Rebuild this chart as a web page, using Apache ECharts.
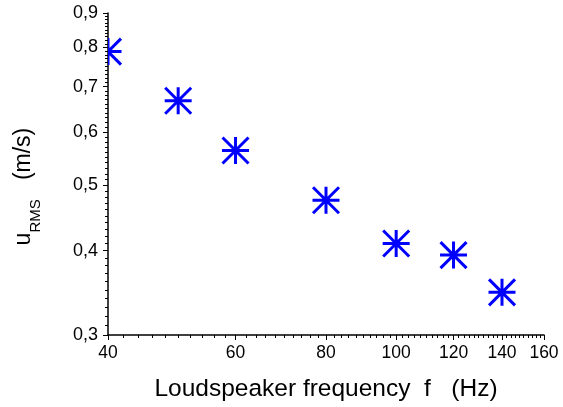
<!DOCTYPE html>
<html>
<head>
<meta charset="utf-8">
<script src="https://cdn.jsdelivr.net/npm/echarts@6/dist/echarts.min.js"></script>
<style>
html,body{margin:0;padding:0;background:#fff;}
#chart{width:563px;height:407px;}
</style>
</head>
<body>
<div id="chart"></div>
<script>
// Data
const frequencies = [40, 50, 60, 80, 100, 120, 140];
const uRmsValues = [0.789, 0.667, 0.563, 0.475, 0.410, 0.394, 0.347];

// Tick values
const xMajorTicks = [40, 60, 80, 100, 120, 140, 160];
const yMajorTicks = [0.3, 0.4, 0.5, 0.6, 0.7, 0.8, 0.9];
const xMinorTicks = [];
for (let v = 42; v < 160; v += 2) { if (v % 20 !== 0) xMinorTicks.push(v); }
const yMinorTicks = [];
for (let i = 31; i < 90; i++) { if (i % 10 !== 0) yMinorTicks.push(i / 100); }

const FONT = 'Arial, "Liberation Sans", sans-serif';
const points = frequencies.map((f, i) => [f, uRmsValues[i]]);

const chart = echarts.init(document.getElementById('chart'), null, {renderer: 'canvas'});

const axisLine = {show: true, lineStyle: {color: '#000', width: 1.5}};

chart.setOption({
  animation: false,
  backgroundColor: '#fff',
  grid: {left: 108, right: 19, top: 13, bottom: 71},
  xAxis: [
    {
      type: 'log', logBase: 10, min: 40, max: 160, position: 'bottom',
      axisLine: axisLine,
      splitLine: {show: false},
      axisTick: {show: true, inside: false, length: 5, customValues: xMajorTicks, lineStyle: {color: '#000', width: 1}},
      axisLabel: {show: true, margin: 9, customValues: xMajorTicks, color: '#000', fontSize: 17.5, fontFamily: FONT,
        formatter: v => String(Math.round(v))},
      name: 'Loudspeaker frequency  f   (Hz)',
      nameLocation: 'middle', nameGap: 42,
      nameTextStyle: {color: '#000', fontSize: 24.5, fontFamily: FONT}
    },
    {
      type: 'log', logBase: 10, min: 40, max: 160, position: 'bottom',
      axisLine: {show: false}, splitLine: {show: false},
      axisTick: {show: true, inside: false, length: 3, customValues: xMinorTicks, lineStyle: {color: '#000', width: 1}},
      axisLabel: {show: false}
    }
  ],
  yAxis: [
    {
      type: 'log', logBase: 10, min: 0.3, max: 0.9, position: 'left',
      axisLine: axisLine,
      splitLine: {show: false},
      axisTick: {show: true, inside: false, length: 5, customValues: yMajorTicks, lineStyle: {color: '#000', width: 1}},
      axisLabel: {show: true, margin: 10, customValues: yMajorTicks, color: '#000', fontSize: 18, fontFamily: FONT,
        formatter: v => Number(v).toFixed(1).replace('.', ',')},
      name: '{u|u}{s|RMS}{m|   (m/s)}{sp| }',
      nameLocation: 'middle', nameGap: 65,
      nameTextStyle: {
        color: '#000', fontFamily: FONT, padding: [0, 24, 0, 0],
        rich: {
          u: {fontSize: 23, fontFamily: FONT, color: '#000', verticalAlign: 'top'},
          s: {fontSize: 15, fontFamily: FONT, color: '#000', verticalAlign: 'bottom'},
          m: {fontSize: 23, fontFamily: FONT, color: '#000', verticalAlign: 'top'},
          sp: {fontSize: 4, lineHeight: 31, verticalAlign: 'top'}
        }
      }
    },
    {
      type: 'log', logBase: 10, min: 0.3, max: 0.9, position: 'left',
      axisLine: {show: false}, splitLine: {show: false},
      axisTick: {show: true, inside: false, length: 3, customValues: yMinorTicks, lineStyle: {color: '#000', width: 1}},
      axisLabel: {show: false}
    }
  ],
  series: [{
    type: 'custom',
    xAxisIndex: 0, yAxisIndex: 0,
    clip: true,
    data: points,
    encode: {x: 0, y: 1},
    renderItem: function (params, api) {
      const p = api.coord([api.value(0), api.value(1)]);
      const r = 13.5, d = 13;
      const x = p[0], y = p[1];
      const path = 'M' + (x - r) + ' ' + y + 'L' + (x + r) + ' ' + y +
        'M' + x + ' ' + (y - r) + 'L' + x + ' ' + (y + r) +
        'M' + (x - d) + ' ' + (y - d) + 'L' + (x + d) + ' ' + (y + d) +
        'M' + (x - d) + ' ' + (y + d) + 'L' + (x + d) + ' ' + (y - d);
      return {
        type: 'path',
        shape: {pathData: path},
        style: {fill: null, stroke: '#0000ff', lineWidth: 3}
      };
    },
    z: 3
  }]
});
</script>
</body>
</html>
